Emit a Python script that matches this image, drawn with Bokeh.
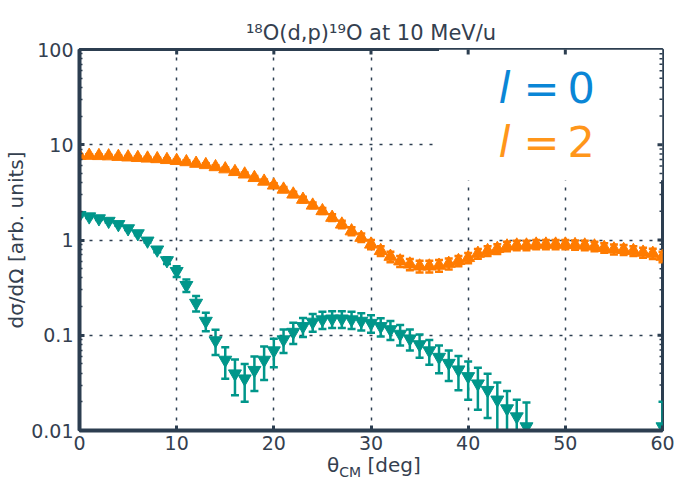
import math
from bokeh.plotting import figure
from bokeh.layouts import column
from bokeh.models import Range1d, Label, BoxAnnotation, FixedTicker, Div
from bokeh.embed import file_html
from bokeh.resources import INLINE

# ---------------- data ----------------
theta_l2 = list(range(61))
xs_l2 = [7.7, 7.7, 7.65, 7.6, 7.5, 7.4, 7.3, 7.2, 7.1, 6.95,
         6.8, 6.6, 6.35, 6.15, 5.85, 5.55, 5.2, 4.9, 4.5, 4.12,
         3.75, 3.4, 3.02, 2.66, 2.31, 2.02, 1.72, 1.46, 1.24, 1.06,
         0.90, 0.77, 0.67, 0.60, 0.556, 0.53, 0.53, 0.54, 0.565, 0.605,
         0.65, 0.72, 0.77, 0.81, 0.86, 0.88, 0.88, 0.90, 0.90, 0.90,
         0.90, 0.89, 0.88, 0.86, 0.83, 0.80, 0.79, 0.77, 0.74, 0.72,
         0.67]
err_l2 = [0.23, 0.23, 0.23, 0.23, 0.22, 0.22, 0.22, 0.22, 0.21, 0.21,
          0.2, 0.26, 0.25, 0.25, 0.24, 0.23, 0.22, 0.22, 0.21, 0.2,
          0.19, 0.2, 0.19, 0.18, 0.16, 0.15, 0.14, 0.13, 0.12, 0.11,
          0.1, 0.09, 0.085, 0.08, 0.075, 0.075, 0.075, 0.075, 0.075, 0.075,
          0.08, 0.085, 0.09, 0.095, 0.1, 0.1, 0.1, 0.1, 0.1, 0.1,
          0.1, 0.1, 0.1, 0.1, 0.095, 0.095, 0.095, 0.09, 0.09, 0.09,
          0.085]

theta_l0 = list(range(47)) + [60]
xs_l0 = [1.82, 1.76, 1.68, 1.58, 1.46, 1.32, 1.17, 0.98, 0.79, 0.61,
         0.47, 0.335, 0.218, 0.141, 0.088, 0.055, 0.0395, 0.035, 0.043, 0.055,
         0.069, 0.09, 0.108, 0.124, 0.138, 0.146, 0.149, 0.149, 0.146, 0.141,
         0.134, 0.124, 0.115, 0.103, 0.092, 0.08, 0.069, 0.059, 0.051, 0.0435,
         0.037, 0.031, 0.0265, 0.021, 0.017, 0.014, 0.011,
         0.011]
err_l0 = [0.06, 0.06, 0.06, 0.055, 0.05, 0.05, 0.045, 0.04, 0.045, 0.05,
          0.06, 0.05, 0.04, 0.031, 0.026, 0.02, 0.016, 0.015, 0.017, 0.021,
          0.023, 0.025, 0.027, 0.028, 0.029, 0.03, 0.03, 0.03, 0.03, 0.029,
          0.028, 0.027, 0.026, 0.025, 0.023, 0.022, 0.02, 0.019, 0.018, 0.017,
          0.016, 0.0145, 0.013, 0.011, 0.009, 0.007, 0.0087,
          0.009]

xtick_vals = [0, 10, 20, 30, 40, 50, 60]
ytick_vals = [0.01, 0.1, 1, 10, 100]
ytick_labels = ["0.01", "0.1", "1", "10", "100"]
title_text = "¹⁸O(d,p)¹⁹O at 10 MeV/u"
ylabel_text = "dσ/dΩ [arb. units]"
xlabel_parts = ["θ", "CM", "[deg]"]
legend_l = ["0", "2"]

# ---------------- styles ----------------
FONT = "DejaVu Sans"
AX = "#2c3e50"
TXT = "#34404f"
ORANGE = "#ff7b00"
TEAL = "#00968a"
LEG_BLUE = "#0a86d6"
LEG_ORANGE = "#ff961a"

p = figure(width=679, height=460, x_range=Range1d(0, 60), y_range=Range1d(0.01, 100),
           y_axis_type="log", output_backend="svg", toolbar_location=None,
           min_border_left=79, min_border_right=17, min_border_top=49, min_border_bottom=30)
p.outline_line_color = AX
p.outline_line_width = 3
p.background_fill_color = "white"
p.border_fill_color = "white"

p.title.text = title_text
p.title.align = "center"
p.title.text_font = FONT
p.title.text_font_size = "21px"
p.title.text_font_style = "normal"
p.title.text_color = TXT
p.title.standoff = 9

yminor = [m * 10 ** e for e in range(-2, 2) for m in range(2, 10)]

def style_axis(ax):
    ax.axis_line_color = AX
    ax.axis_line_width = 4
    ax.major_tick_line_color = AX
    ax.major_tick_line_width = 3
    ax.major_tick_in = 5
    ax.major_tick_out = 0
    ax.minor_tick_line_color = AX
    ax.minor_tick_line_width = 1.5
    ax.minor_tick_out = 0
    ax.major_label_text_font = FONT
    ax.major_label_text_font_size = "19px"
    ax.major_label_text_color = TXT

xb = p.xaxis[0]
xb.ticker = FixedTicker(ticks=xtick_vals)
style_axis(xb)
xb.minor_tick_in = 0
xb.major_label_standoff = 5

yl = p.yaxis[0]
yl.ticker = FixedTicker(ticks=ytick_vals, minor_ticks=yminor)
yl.major_label_overrides = dict(zip(ytick_vals, ytick_labels))
style_axis(yl)
yl.minor_tick_in = 3
yl.major_label_standoff = 6
yl.axis_label = ylabel_text
yl.axis_label_text_font = FONT
yl.axis_label_text_font_size = "20px"
yl.axis_label_text_font_style = "normal"
yl.axis_label_text_color = TXT
yl.axis_label_standoff = 0

for g in (p.xgrid[0], p.ygrid[0]):
    g.grid_line_color = AX
    g.grid_line_dash = "3 7"
    g.grid_line_width = 1.5
p.ygrid[0].ticker = FixedTicker(ticks=ytick_vals)

# white legend box hiding grid
p.add_layout(BoxAnnotation(left=37, right=60, bottom=4.24, top=100,
                           fill_color="white", fill_alpha=1.0, line_color=None, level="underlay"))

# mirrored inward ticks on top and right frame edges (clipped half of a dash marker)
p.scatter(xtick_vals[1:-1], [ytick_vals[-1]] * (len(xtick_vals) - 2), marker="dash", angle=math.pi / 2,
          size=10, line_color=AX, line_width=3)
p.scatter([xtick_vals[-1]] * (len(ytick_vals) - 2), ytick_vals[1:-1], marker="dash",
          size=10, line_color=AX, line_width=3)
p.scatter([xtick_vals[-1]] * len(yminor), yminor, marker="dash", size=6, line_color=AX, line_width=1.5)

# ---------------- error bars and markers ----------------
def series(xv, yv, ev, color, marker):
    lo = [y - e for y, e in zip(yv, ev)]
    hi = [y + e for y, e in zip(yv, ev)]
    p.segment(x0=xv, y0=lo, x1=xv, y1=hi, line_color=color, line_width=2.5)
    p.scatter(xv, hi, marker="dash", size=8, line_color=color, line_width=2.5)
    p.scatter(xv, lo, marker="dash", size=8, line_color=color, line_width=2.5)
    p.scatter(xv, yv, marker=marker, size=13, fill_color=color, line_color=color, line_width=1)

series(theta_l2, xs_l2, err_l2, ORANGE, "triangle")
series(theta_l0, xs_l0, err_l0, TEAL, "inverted_triangle")

# ---------------- legend texts ----------------
for i, (num, col) in enumerate(zip(legend_l, [LEG_BLUE, LEG_ORANGE])):
    yoff = -38 - 54 * i
    p.add_layout(Label(x=60, y=100, x_offset=-164, y_offset=yoff, text="l", text_font_style="italic",
                       text_baseline="middle", text_font=FONT, text_font_size="43px", text_color=col))
    p.add_layout(Label(x=60, y=100, x_offset=-139, y_offset=yoff, text="=",
                       text_baseline="middle", text_font=FONT, text_font_size="43px", text_color=col))
    p.add_layout(Label(x=60, y=100, x_offset=-95, y_offset=yoff, text=num,
                       text_baseline="middle", text_font=FONT, text_font_size="43px", text_color=col))

# ---------------- x axis label (with subscript) ----------------
xlabel_html = (
    '<div style="position:relative; left:322px; top:-10px; white-space:nowrap; '
    'font-family:\'DejaVu Sans\'; font-size:20px; line-height:20px; color:%s;">'
    '%s<sub style="font-size:14px; line-height:0;">%s</sub> %s</div>' % (TXT, xlabel_parts[0], xlabel_parts[1], xlabel_parts[2])
)
xlab = Div(text=xlabel_html, width=679, height=21)

layout = column(p, xlab, spacing=0)
open("out.html", "w").write(file_html(layout, INLINE))
